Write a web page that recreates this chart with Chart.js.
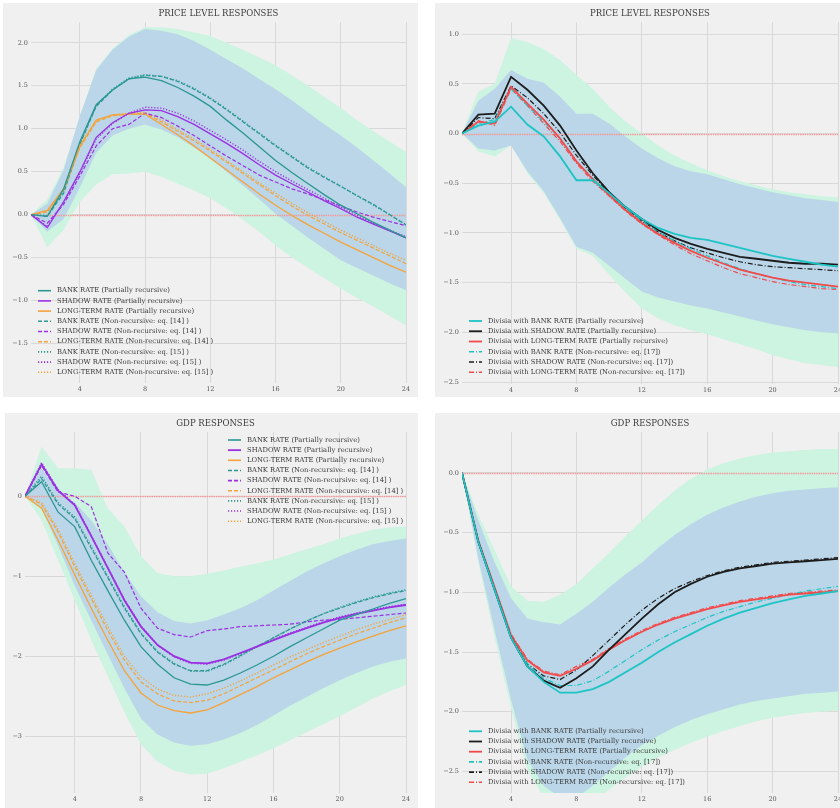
<!DOCTYPE html>
<html>
<head>
<meta charset="utf-8">
<script src="https://cdn.jsdelivr.net/npm/chart.js@4.4.1/dist/chart.umd.min.js"></script>
<style>
  html, body { margin: 0; padding: 0; background: #fff; }
  body { width: 840px; height: 808px; overflow: hidden; position: relative; }
  canvas { position: absolute; background: #f0f0f0; }
</style>
</head>
<body>
<canvas id="pl-left" width="415" height="394" style="left:3px;top:3px"></canvas>
<canvas id="pl-right" width="420" height="394" style="left:435px;top:3px"></canvas>
<canvas id="gdp-left" width="413" height="395" style="left:5px;top:413px"></canvas>
<canvas id="gdp-right" width="420" height="395" style="left:435px;top:413px"></canvas>
<script>
const periods = [1, 2, 3, 4, 5, 6, 7, 8, 9, 10, 11, 12, 13, 14, 15, 16, 17, 18, 19, 20, 21, 22, 23, 24];
const xTicks = [4, 8, 12, 16, 20, 24];

// price level, interest rates
const plBankPR = [0, -0.02, 0.30, 0.85, 1.28, 1.45, 1.58, 1.60, 1.56, 1.48, 1.38, 1.26, 1.10, 0.95, 0.79, 0.63, 0.49, 0.36, 0.23, 0.11, 0.01, -0.09, -0.18, -0.27];
const plShadowPR = [0, -0.15, 0.15, 0.50, 0.90, 1.07, 1.18, 1.22, 1.21, 1.14, 1.05, 0.94, 0.83, 0.71, 0.58, 0.46, 0.36, 0.26, 0.16, 0.07, -0.03, -0.11, -0.19, -0.27];
const plLongPR = [0, 0.05, 0.30, 0.80, 1.10, 1.16, 1.17, 1.17, 1.05, 0.93, 0.80, 0.66, 0.52, 0.38, 0.24, 0.11, -0.01, -0.12, -0.22, -0.32, -0.41, -0.50, -0.59, -0.67];
const plBank14 = [0, -0.02, 0.25, 0.82, 1.26, 1.45, 1.58, 1.62, 1.61, 1.55, 1.46, 1.35, 1.22, 1.08, 0.94, 0.80, 0.67, 0.54, 0.43, 0.33, 0.22, 0.12, 0.00, -0.12];
const plShadow14 = [0, -0.10, 0.12, 0.45, 0.80, 1.00, 1.05, 1.18, 1.13, 1.03, 0.92, 0.80, 0.68, 0.57, 0.46, 0.38, 0.30, 0.24, 0.17, 0.10, 0.03, -0.03, -0.08, -0.13];
const plLong14 = [0, 0.03, 0.28, 0.78, 1.08, 1.15, 1.17, 1.18, 1.08, 0.97, 0.86, 0.74, 0.61, 0.48, 0.35, 0.22, 0.10, -0.01, -0.11, -0.21, -0.30, -0.39, -0.48, -0.57];
const plBank15 = [0, -0.01, 0.27, 0.83, 1.27, 1.46, 1.59, 1.63, 1.61, 1.56, 1.47, 1.36, 1.23, 1.09, 0.95, 0.81, 0.68, 0.55, 0.44, 0.33, 0.22, 0.11, 0.00, -0.12];
const plShadow15 = [0, -0.14, 0.14, 0.48, 0.88, 1.06, 1.18, 1.25, 1.24, 1.18, 1.09, 0.98, 0.87, 0.75, 0.62, 0.50, 0.39, 0.29, 0.19, 0.09, -0.01, -0.10, -0.18, -0.26];
const plLong15 = [0, 0.04, 0.29, 0.79, 1.09, 1.16, 1.18, 1.19, 1.10, 0.99, 0.88, 0.76, 0.63, 0.50, 0.37, 0.25, 0.13, 0.02, -0.08, -0.18, -0.27, -0.36, -0.45, -0.53];
const plInnerHi = [0, 0.13, 0.52, 1.15, 1.68, 1.92, 2.07, 2.16, 2.14, 2.10, 2.02, 1.92, 1.81, 1.70, 1.58, 1.46, 1.33, 1.19, 1.05, 0.92, 0.78, 0.63, 0.48, 0.32];
const plInnerLo = [0, -0.20, -0.05, 0.32, 0.72, 0.92, 1.00, 1.05, 0.99, 0.90, 0.78, 0.65, 0.50, 0.34, 0.18, 0.01, -0.13, -0.27, -0.40, -0.53, -0.62, -0.71, -0.80, -0.88];
const plOuterHi = [0, 0.18, 0.55, 1.15, 1.70, 1.93, 2.09, 2.18, 2.18, 2.16, 2.12, 2.08, 2.00, 1.92, 1.83, 1.74, 1.62, 1.50, 1.37, 1.24, 1.10, 0.97, 0.85, 0.73];
const plOuterLo = [0, -0.38, -0.18, 0.15, 0.35, 0.47, 0.48, 0.50, 0.44, 0.36, 0.28, 0.19, 0.07, -0.06, -0.20, -0.36, -0.50, -0.62, -0.74, -0.86, -0.97, -1.07, -1.18, -1.29];

// price level, divisia
const pdBankPR = [0, 0.08, 0.12, 0.27, 0.09, -0.03, -0.23, -0.47, -0.47, -0.60, -0.74, -0.86, -0.95, -1.01, -1.05, -1.07, -1.11, -1.15, -1.19, -1.23, -1.26, -1.29, -1.32, -1.34];
const pdShadowPR = [0, 0.19, 0.20, 0.57, 0.44, 0.28, 0.08, -0.17, -0.40, -0.59, -0.74, -0.86, -0.97, -1.05, -1.11, -1.16, -1.20, -1.24, -1.26, -1.28, -1.30, -1.31, -1.31, -1.32];
const pdLongPR = [0, 0.12, 0.10, 0.47, 0.30, 0.14, -0.05, -0.28, -0.46, -0.62, -0.77, -0.90, -1.01, -1.10, -1.18, -1.25, -1.31, -1.37, -1.41, -1.45, -1.48, -1.50, -1.52, -1.54];
const pdBank17 = [0, 0.10, 0.14, 0.45, 0.28, 0.12, -0.05, -0.28, -0.45, -0.61, -0.75, -0.88, -0.99, -1.08, -1.16, -1.23, -1.30, -1.36, -1.41, -1.45, -1.49, -1.52, -1.54, -1.56];
const pdShadow17 = [0, 0.16, 0.15, 0.48, 0.36, 0.20, 0.01, -0.22, -0.42, -0.60, -0.75, -0.88, -0.99, -1.08, -1.15, -1.20, -1.25, -1.29, -1.32, -1.34, -1.35, -1.36, -1.37, -1.38];
const pdLong17 = [0, 0.13, 0.08, 0.45, 0.28, 0.10, -0.08, -0.30, -0.48, -0.63, -0.78, -0.91, -1.02, -1.12, -1.21, -1.28, -1.35, -1.41, -1.45, -1.49, -1.52, -1.54, -1.56, -1.57];
const pdInnerHi = [0, 0.33, 0.45, 0.64, 0.55, 0.51, 0.37, 0.20, 0.20, 0.10, -0.03, -0.15, -0.25, -0.33, -0.38, -0.41, -0.46, -0.51, -0.55, -0.59, -0.62, -0.65, -0.67, -0.69];
const pdInnerLo = [0, -0.15, -0.17, -0.12, -0.38, -0.58, -0.85, -1.14, -1.20, -1.33, -1.46, -1.59, -1.65, -1.69, -1.73, -1.76, -1.80, -1.84, -1.88, -1.92, -1.95, -1.98, -2.00, -2.01];
const pdOuterHi = [0, 0.42, 0.50, 0.96, 0.92, 0.85, 0.74, 0.59, 0.45, 0.27, 0.12, 0.00, -0.12, -0.22, -0.30, -0.37, -0.43, -0.48, -0.52, -0.56, -0.59, -0.61, -0.63, -0.64];
const pdOuterLo = [0, -0.18, -0.23, -0.12, -0.40, -0.60, -0.87, -1.16, -1.23, -1.42, -1.60, -1.76, -1.86, -1.93, -1.98, -2.02, -2.07, -2.12, -2.17, -2.23, -2.27, -2.31, -2.33, -2.35];

// gdp, interest rates
const gdBankPR = [0, 0.18, -0.20, -0.38, -0.80, -1.18, -1.55, -1.88, -2.10, -2.27, -2.35, -2.36, -2.30, -2.21, -2.11, -2.00, -1.88, -1.77, -1.66, -1.55, -1.48, -1.41, -1.34, -1.28];
const gdShadowPR = [0, 0.40, 0.07, -0.11, -0.50, -0.90, -1.30, -1.63, -1.86, -2.00, -2.08, -2.09, -2.04, -1.96, -1.88, -1.80, -1.72, -1.65, -1.58, -1.52, -1.47, -1.43, -1.39, -1.36];
const gdLongPR = [0, -0.15, -0.55, -0.98, -1.40, -1.80, -2.18, -2.46, -2.61, -2.68, -2.71, -2.67, -2.58, -2.48, -2.38, -2.27, -2.17, -2.07, -1.98, -1.90, -1.82, -1.75, -1.68, -1.62];
const gdBank14 = [0, 0.22, -0.10, -0.28, -0.65, -1.02, -1.40, -1.72, -1.95, -2.10, -2.18, -2.18, -2.10, -1.99, -1.88, -1.77, -1.66, -1.56, -1.47, -1.40, -1.33, -1.27, -1.22, -1.18];
const gdShadow14 = [0, 0.38, 0.05, 0.00, -0.13, -0.71, -0.95, -1.40, -1.65, -1.73, -1.76, -1.68, -1.66, -1.63, -1.62, -1.61, -1.60, -1.57, -1.55, -1.54, -1.52, -1.50, -1.48, -1.46];
const gdLong14 = [0, -0.10, -0.45, -0.88, -1.28, -1.68, -2.05, -2.32, -2.47, -2.56, -2.58, -2.55, -2.47, -2.37, -2.27, -2.17, -2.07, -1.97, -1.88, -1.80, -1.72, -1.65, -1.58, -1.52];
const gdBank15 = [0, 0.25, -0.08, -0.26, -0.63, -1.00, -1.38, -1.71, -1.94, -2.09, -2.19, -2.19, -2.11, -2.00, -1.88, -1.77, -1.66, -1.56, -1.47, -1.39, -1.32, -1.26, -1.21, -1.17];
const gdShadow15 = [0, 0.42, 0.08, -0.10, -0.49, -0.89, -1.29, -1.62, -1.86, -2.01, -2.09, -2.10, -2.05, -1.97, -1.88, -1.79, -1.71, -1.64, -1.57, -1.51, -1.46, -1.42, -1.38, -1.35];
const gdLong15 = [0, -0.08, -0.42, -0.84, -1.24, -1.63, -2.00, -2.26, -2.41, -2.49, -2.51, -2.47, -2.40, -2.31, -2.21, -2.11, -2.01, -1.92, -1.83, -1.75, -1.67, -1.60, -1.54, -1.48];
const gdInnerHi = [0, 0.35, 0.05, -0.08, -0.30, -0.60, -0.95, -1.25, -1.45, -1.56, -1.59, -1.55, -1.48, -1.40, -1.30, -1.18, -1.06, -0.94, -0.84, -0.75, -0.67, -0.60, -0.56, -0.53];
const gdInnerLo = [0, -0.15, -0.62, -1.12, -1.55, -1.98, -2.40, -2.78, -2.98, -3.08, -3.12, -3.10, -3.04, -2.96, -2.86, -2.74, -2.62, -2.51, -2.40, -2.30, -2.21, -2.13, -2.07, -2.03];
const gdOuterHi = [0, 0.62, 0.35, 0.35, 0.33, -0.15, -0.38, -0.75, -0.96, -1.00, -1.00, -0.97, -0.93, -0.88, -0.84, -0.79, -0.73, -0.66, -0.60, -0.53, -0.47, -0.42, -0.39, -0.38];
const gdOuterLo = [0, -0.30, -0.80, -1.30, -1.80, -2.25, -2.70, -3.10, -3.32, -3.43, -3.48, -3.47, -3.40, -3.32, -3.24, -3.15, -3.05, -2.95, -2.85, -2.75, -2.64, -2.53, -2.44, -2.36];

// gdp, divisia
const gvBankPR = [0, -0.58, -0.98, -1.38, -1.62, -1.75, -1.84, -1.84, -1.81, -1.75, -1.67, -1.59, -1.50, -1.42, -1.35, -1.28, -1.22, -1.17, -1.13, -1.09, -1.06, -1.03, -1.01, -0.99];
const gvShadowPR = [0, -0.58, -0.98, -1.38, -1.62, -1.74, -1.80, -1.72, -1.62, -1.48, -1.35, -1.22, -1.10, -1.00, -0.93, -0.87, -0.83, -0.80, -0.78, -0.76, -0.75, -0.74, -0.73, -0.72];
const gvLongPR = [0, -0.57, -0.96, -1.36, -1.57, -1.67, -1.70, -1.64, -1.57, -1.48, -1.40, -1.33, -1.27, -1.22, -1.18, -1.14, -1.11, -1.08, -1.06, -1.04, -1.02, -1.01, -1.00, -0.99];
const gvBank17 = [0, -0.58, -0.98, -1.37, -1.60, -1.72, -1.78, -1.78, -1.74, -1.66, -1.57, -1.48, -1.40, -1.33, -1.27, -1.21, -1.16, -1.12, -1.08, -1.05, -1.02, -0.99, -0.97, -0.95];
const gvShadow17 = [0, -0.58, -0.97, -1.37, -1.60, -1.70, -1.73, -1.65, -1.53, -1.40, -1.27, -1.15, -1.05, -0.97, -0.91, -0.86, -0.82, -0.79, -0.77, -0.75, -0.74, -0.73, -0.72, -0.71];
const gvLong17 = [0, -0.57, -0.96, -1.35, -1.56, -1.66, -1.69, -1.62, -1.56, -1.47, -1.39, -1.32, -1.26, -1.21, -1.17, -1.13, -1.10, -1.07, -1.05, -1.03, -1.01, -1.00, -0.99, -0.98];
const gvInnerHi = [0, -0.40, -0.75, -1.05, -1.22, -1.25, -1.27, -1.18, -1.08, -0.96, -0.85, -0.75, -0.63, -0.52, -0.43, -0.35, -0.29, -0.24, -0.20, -0.17, -0.15, -0.14, -0.13, -0.12];
const gvInnerLo = [0, -0.72, -1.32, -1.90, -2.40, -2.62, -2.72, -2.72, -2.62, -2.50, -2.38, -2.28, -2.20, -2.13, -2.07, -2.02, -1.98, -1.94, -1.91, -1.89, -1.87, -1.85, -1.84, -1.83];
const gvOuterHi = [0, -0.35, -0.65, -0.95, -1.07, -1.08, -1.02, -0.93, -0.80, -0.67, -0.53, -0.40, -0.27, -0.15, -0.05, 0.03, 0.08, 0.12, 0.15, 0.17, 0.18, 0.19, 0.20, 0.20];
const gvOuterLo = [0, -0.75, -1.38, -1.97, -2.48, -2.72, -2.82, -2.82, -2.75, -2.65, -2.55, -2.46, -2.38, -2.32, -2.26, -2.21, -2.16, -2.12, -2.08, -2.05, -2.03, -2.01, -2.00, -1.99];

const TEAL = '#2a9792', PURPLE = '#9b30e2', ORANGE = '#f5a33a';
const CYAN = '#1dc4c4', BLACK = '#1c1c1c', RED = '#f24a4a';
const OUTER = '#cdf3e1', INNER = '#bad6e8';
const DASH = [4, 2], DOT = [1.2, 1.8], DASHDOT = [5, 2, 1, 2];
const FONT = 'DejaVu Serif';

const pts = vals => vals.map((v, i) => ({ x: periods[i], y: v }));

function band(hi, lo, color, order) {
  return [
    { data: pts(hi), fill: '+1', backgroundColor: color, borderWidth: 0, pointRadius: 0, order },
    { data: pts(lo), fill: false, borderWidth: 0, pointRadius: 0, order }
  ];
}

function line(label, vals, color, dash, width) {
  return {
    label, inLegend: true, data: pts(vals), borderColor: color, borderDash: dash,
    borderWidth: width, fill: false, pointRadius: 0, tension: 0, order: 1
  };
}

// pink dotted reference at zero, placed with the y scale (sits under the lines)
const zeroLine = {
  id: 'zeroLine',
  beforeDatasetDraw(chart, args) {
    // draw once, just before the first response line
    if (args.meta.order !== 1 || args.index !== chart.data.datasets.findLastIndex(d => d.order === 1)) return;
    const { ctx, chartArea } = chart;
    const y = Math.round(chart.scales.y.getPixelForValue(0)) + 0.5;
    ctx.save();
    ctx.strokeStyle = '#f29a9a';
    ctx.lineWidth = 1.4;
    ctx.setLineDash([1.5, 0.8]);
    ctx.beginPath();
    ctx.moveTo(chartArea.left, y);
    ctx.lineTo(chartArea.right, y);
    ctx.stroke();
    ctx.restore();
  }
};

// matplotlib-ish legend with line handles
const panelLegend = {
  id: 'panelLegend',
  afterDraw(chart, args, opts) {
    const ctx = chart.ctx;
    ctx.save();
    ctx.font = '6.8px "' + FONT + '"';
    ctx.textBaseline = 'middle';
    let y = opts.y;
    chart.data.datasets.forEach(ds => {
      if (!ds.inLegend) return;
      ctx.strokeStyle = ds.borderColor;
      ctx.lineWidth = Math.max(ds.borderWidth, 1.6);
      ctx.setLineDash(ds.borderDash || []);
      ctx.beginPath();
      ctx.moveTo(opts.x, y);
      ctx.lineTo(opts.x + 13, y);
      ctx.stroke();
      ctx.setLineDash([]);
      ctx.fillStyle = '#3a3a3a';
      ctx.fillText(ds.label, opts.x + 19, y);
      y += opts.rowH;
    });
    ctx.restore();
  }
};

function fmt(dec) {
  return v => (v < 0 ? '\u2212' : '') + Math.abs(v).toFixed(dec);
}

function makeChart(id, cfg) {
  const tickFont = { family: FONT, size: 6.5 };
  return new Chart(document.getElementById(id), {
    type: 'line',
    data: { datasets: cfg.datasets },
    options: {
      responsive: false,
      animation: false,
      devicePixelRatio: 1,
      layout: { padding: { left: 0, right: cfg.padRight, top: 0, bottom: 0 } },
      elements: { line: { tension: 0 }, point: { radius: 0 } },
      plugins: {
        legend: { display: false },
        tooltip: { enabled: false },
        title: {
          display: true, text: cfg.title, fullSize: false, color: '#3a3a3a',
          font: { family: FONT, size: 8.5, weight: 'normal' },
          padding: { top: 6, bottom: 3 }
        },
        panelLegend: cfg.legend
      },
      scales: {
        x: {
          type: 'linear', min: 1, max: 24,
          grid: { color: '#d9d9d9', drawTicks: false },
          border: { display: false },
          ticks: { font: tickFont, color: '#555', padding: 2, maxRotation: 0 },
          afterBuildTicks: s => { s.ticks = xTicks.map(v => ({ value: v })); },
          afterFit: s => { s.height = cfg.xH; }
        },
        y: {
          min: cfg.yMin, max: cfg.yMax,
          grid: { color: '#d9d9d9', drawTicks: false },
          border: { display: false },
          ticks: { font: tickFont, color: '#555', padding: 3, callback: fmt(cfg.dec) },
          afterBuildTicks: s => { s.ticks = cfg.yTicks.map(v => ({ value: v })); },
          afterFit: s => { s.width = cfg.yW; }
        }
      }
    },
    plugins: [zeroLine, panelLegend]
  });
}

makeChart('pl-left', {
  title: 'PRICE LEVEL RESPONSES',
  yMin: -1.96, yMax: 2.24, yTicks: [-1.5, -1.0, -0.5, 0, 0.5, 1.0, 1.5, 2.0], dec: 1,
  yW: 28, xH: 14, padRight: 12,
  legend: { x: 35, y: 287.7, rowH: 10.2 },
  datasets: [
    line('BANK RATE (Partially recursive)', plBankPR, TEAL, [], 1.3),
    line('SHADOW RATE (Partially recursive)', plShadowPR, PURPLE, [], 1.3),
    line('LONG-TERM RATE (Partially recursive)', plLongPR, ORANGE, [], 1.3),
    line('BANK RATE (Non-recursive: eq. [14] )', plBank14, TEAL, DASH, 1.2),
    line('SHADOW RATE (Non-recursive: eq. [14] )', plShadow14, PURPLE, DASH, 1.2),
    line('LONG-TERM RATE (Non-recursive: eq. [14] )', plLong14, ORANGE, DASH, 1.2),
    line('BANK RATE (Non-recursive: eq. [15] )', plBank15, TEAL, DOT, 1.4),
    line('SHADOW RATE (Non-recursive: eq. [15] )', plShadow15, PURPLE, DOT, 1.4),
    line('LONG-TERM RATE (Non-recursive: eq. [15] )', plLong15, ORANGE, DOT, 1.4),
    ...band(plInnerHi, plInnerLo, INNER, 19),
    ...band(plOuterHi, plOuterLo, OUTER, 20)
  ]
});

makeChart('pl-right', {
  title: 'PRICE LEVEL RESPONSES',
  yMin: -2.52, yMax: 1.12, yTicks: [-2.5, -2.0, -1.5, -1.0, -0.5, 0, 0.5, 1.0], dec: 1,
  yW: 27, xH: 13, padRight: 17,
  legend: { x: 34, y: 318, rowH: 10.25 },
  datasets: [
    line('Divisia with BANK RATE (Partially recursive)', pdBankPR, CYAN, [], 1.8),
    line('Divisia with SHADOW RATE (Partially recursive)', pdShadowPR, BLACK, [], 1.8),
    line('Divisia with LONG-TERM RATE (Partially recursive)', pdLongPR, RED, [], 1.8),
    line('Divisia with BANK RATE (Non-recursive: eq. [17])', pdBank17, CYAN, DASHDOT, 1.2),
    line('Divisia with SHADOW RATE (Non-recursive: eq. [17])', pdShadow17, BLACK, DASHDOT, 1.2),
    line('Divisia with LONG-TERM RATE (Non-recursive: eq. [17])', pdLong17, RED, DASHDOT, 1.2),
    ...band(pdInnerHi, pdInnerLo, INNER, 19),
    ...band(pdOuterHi, pdOuterLo, OUTER, 20)
  ]
});

makeChart('gdp-left', {
  title: 'GDP RESPONSES',
  yMin: -3.71, yMax: 0.80, yTicks: [-3, -2, -1, 0], dec: 0,
  yW: 20, xH: 15, padRight: 12,
  legend: { x: 223, y: 27, rowH: 10.15 },
  datasets: [
    line('BANK RATE (Partially recursive)', gdBankPR, TEAL, [], 1.3),
    line('SHADOW RATE (Partially recursive)', gdShadowPR, PURPLE, [], 1.8),
    line('LONG-TERM RATE (Partially recursive)', gdLongPR, ORANGE, [], 1.3),
    line('BANK RATE (Non-recursive: eq. [14] )', gdBank14, TEAL, DASH, 1.2),
    line('SHADOW RATE (Non-recursive: eq. [14] )', gdShadow14, PURPLE, DASH, 1.2),
    line('LONG-TERM RATE (Non-recursive: eq. [14] )', gdLong14, ORANGE, DASH, 1.2),
    line('BANK RATE (Non-recursive: eq. [15] )', gdBank15, TEAL, DOT, 1.4),
    line('SHADOW RATE (Non-recursive: eq. [15] )', gdShadow15, PURPLE, DOT, 1.4),
    line('LONG-TERM RATE (Non-recursive: eq. [15] )', gdLong15, ORANGE, DOT, 1.4),
    ...band(gdInnerHi, gdInnerLo, INNER, 19),
    ...band(gdOuterHi, gdOuterLo, OUTER, 20)
  ]
});

makeChart('gdp-right', {
  title: 'GDP RESPONSES',
  yMin: -2.68, yMax: 0.34, yTicks: [-2.5, -2.0, -1.5, -1.0, -0.5, 0], dec: 1,
  yW: 27, xH: 15, padRight: 17,
  legend: { x: 34, y: 318.3, rowH: 10.2 },
  datasets: [
    line('Divisia with BANK RATE (Partially recursive)', gvBankPR, CYAN, [], 1.8),
    line('Divisia with SHADOW RATE (Partially recursive)', gvShadowPR, BLACK, [], 1.8),
    line('Divisia with LONG-TERM RATE (Partially recursive)', gvLongPR, RED, [], 1.8),
    line('Divisia with BANK RATE (Non-recursive: eq. [17])', gvBank17, CYAN, DASHDOT, 1.2),
    line('Divisia with SHADOW RATE (Non-recursive: eq. [17])', gvShadow17, BLACK, DASHDOT, 1.2),
    line('Divisia with LONG-TERM RATE (Non-recursive: eq. [17])', gvLong17, RED, DASHDOT, 1.2),
    ...band(gvInnerHi, gvInnerLo, INNER, 19),
    ...band(gvOuterHi, gvOuterLo, OUTER, 20)
  ]
});
</script>
</body>
</html>
